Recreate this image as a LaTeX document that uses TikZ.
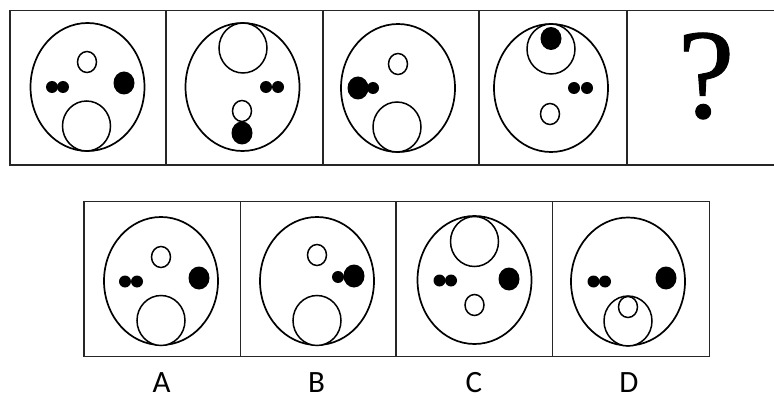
\documentclass[tikz,border=0pt]{standalone}
\usepackage{fontspec}
\setmainfont{Liberation Serif}
\newfontfamily\labfont{Carlito}
\newfontfamily\qfont[FakeBold=0.7]{Liberation Serif}
\tikzset{
  frame/.style={draw=black!85, line width=1.5pt},
  outer/.style={draw, line width=1.7pt},
  opencirc/.style={draw, line width=1.5pt, fill=white},
  blackdot/.style={fill=black},
}
\newcommand{\outerE}[2]{\draw[outer] (#1,#2) ellipse [x radius=57pt, y radius=64pt];}
\newcommand{\bigO}[2]{\draw[opencirc] (#1,#2) ellipse [x radius=24pt, y radius=25pt];}
\newcommand{\smallO}[2]{\draw[opencirc] (#1,#2) ellipse [x radius=9.5pt, y radius=10.5pt];}
\newcommand{\bigB}[2]{\fill[blackdot] (#1,#2) ellipse [x radius=10.5pt, y radius=11.5pt];}
\newcommand{\smallB}[2]{\fill[blackdot] (#1,#2) circle [radius=6pt];}
\begin{document}
\begin{tikzpicture}[x=1pt,y=-1pt]
\useasboundingbox (0,0) rectangle (774,401);
% top frame
\draw[frame] (775,10.5) -- (10,10.5) -- (10,165) -- (775,165);
\foreach \xx in {166,323,479,627} \draw[frame] (\xx,10.5) -- (\xx,165);
% bottom frame
\draw[frame] (84,201.7) rectangle (709.3,356.7);
\foreach \xx in {240.7,396,552.7} \draw[frame] (\xx,201.7) -- (\xx,356.7);
% panel 1
\outerE{87.5}{87}
\bigO{86.5}{126}
\smallO{87}{62}
\smallB{52}{87}\smallB{63}{87}
\bigB{124}{83}
% panel 2
\outerE{242.5}{87}
\bigO{243}{48}
\smallB{266}{87}\smallB{278}{87}
\smallO{242}{111}
\bigB{242}{133}
% panel 3
\outerE{398}{88}
\bigO{397}{127}
\smallO{398}{64}
\bigB{358}{88}
\smallB{373}{88}
% panel 4
\outerE{551}{88}
\bigO{551}{49}
\bigB{551}{38.5}
\smallB{574}{88}\smallB{587}{88}
\smallO{550}{114}
% question mark
\node (q) at (706,76) {\qfont\fontsize{128}{128}\selectfont ?};
% A
\outerE{161}{281}
\bigO{161}{320.5}
\smallO{161}{257}
\smallB{125}{281.5}\smallB{137}{281.5}
\bigB{199}{278}
% B
\outerE{317}{281}
\bigO{317}{320.5}
\smallO{317}{255}
\smallB{338}{277}
\bigB{354}{276}
% C
\outerE{474.5}{280}
\bigO{474.5}{241.5}
\smallB{439.5}{280.5}\smallB{451}{280.5}
\bigB{509}{279}
\smallO{474.5}{305}
% D
\outerE{628}{281.5}
\bigO{628}{321}
\smallO{628}{307}
\smallB{593.5}{281.5}\smallB{605}{281.5}
\bigB{666}{278}
% labels
\foreach \lx/\lt in {161.5/A,316.5/B,474/C,629/D}
  \node[anchor=base, inner sep=0pt] (lab\lt) at (\lx,392.5) {\labfont\fontsize{31}{31}\selectfont \lt};
\end{tikzpicture}
\end{document}
